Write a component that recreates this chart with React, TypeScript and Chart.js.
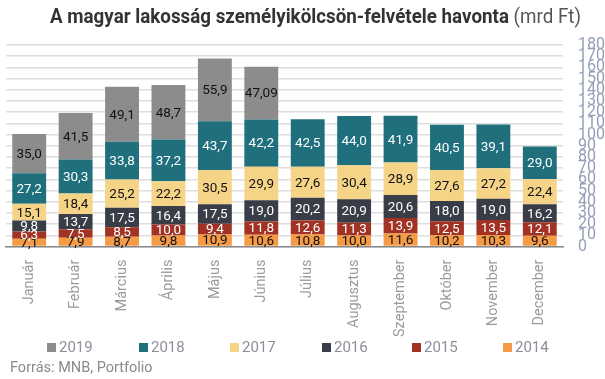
import React, { useEffect, useRef } from "react";
import { Chart, registerables } from "chart.js";

Chart.register(...registerables);

const months = ["Január", "Február", "Március", "Április", "Május", "Június", "Július", "Augusztus", "Szeptember", "Október", "November", "December"];

const s2014 = [7.1, 7.9, 8.7, 9.8, 10.9, 10.6, 10.8, 10.0, 11.6, 10.2, 10.3, 9.6];
const s2015 = [6.3, 7.5, 8.5, 10.0, 9.4, 11.8, 12.6, 11.3, 13.9, 12.5, 13.5, 12.1];
const s2016 = [9.8, 13.7, 17.5, 16.4, 17.5, 19.0, 20.2, 20.9, 20.6, 18.0, 19.0, 16.2];
const s2017 = [15.1, 18.4, 25.2, 22.2, 30.5, 29.9, 27.6, 30.4, 28.9, 27.6, 27.2, 22.4];
const s2018 = [27.2, 30.3, 33.8, 37.2, 43.7, 42.2, 42.5, 44.0, 41.9, 40.5, 39.1, 29.0];
const s2019 = [35.0, 41.5, 49.1, 48.7, 55.9, 47.09, null, null, null, null, null, null];

const seriesNames = ["2014", "2015", "2016", "2017", "2018", "2019"];
const seriesData = [s2014, s2015, s2016, s2017, s2018, s2019];
const seriesColors = ["#f59a45", "#a23224", "#393d47", "#f5d487", "#1f6f7d", "#8c8c8c"];
const labelColors = ["#111111", "#ffffff", "#ffffff", "#111111", "#ffffff", "#111111"];

const yMin = 0;
const yMax = 180;
const yStep = 10;

function fmt(v: number): string {
  const t = v * 10;
  const s = Math.abs(t - Math.round(t)) < 1e-6 ? v.toFixed(1) : v.toFixed(2);
  return s.replace(".", ",");
}

const barLabels = {
  id: "barLabels",
  afterDatasetsDraw(chart: any) {
    const ctx = chart.ctx;
    ctx.save();
    ctx.font = "13.5px Roboto";
    ctx.textAlign = "center";
    ctx.textBaseline = "middle";
    chart.data.datasets.forEach((ds: any, i: number) => {
      const meta = chart.getDatasetMeta(i);
      meta.data.forEach((el: any, j: number) => {
        const v = ds.data[j];
        if (v == null) return;
        const p = el.getProps(["x", "y", "base"], true);
        ctx.fillStyle = labelColors[i];
        ctx.fillText(fmt(v), p.x, (p.y + p.base) / 2 + 1);
      });
    });
    ctx.restore();
  },
};

export default function App() {
  const canvasRef = useRef<HTMLCanvasElement>(null);
  const titleRef = useRef<HTMLDivElement>(null);

  useEffect(() => {
    const t = titleRef.current;
    if (t) {
      t.style.transform = "none";
      const w = t.getBoundingClientRect().width;
      t.style.transform = `scaleX(${531 / w})`;
    }
    const canvas = canvasRef.current;
    if (!canvas) return;
    const chart = new Chart(canvas, {
      type: "bar",
      data: {
        labels: months,
        datasets: seriesData.map((d, i) => ({
          label: seriesNames[i],
          data: d,
          backgroundColor: seriesColors[i],
          borderWidth: 0,
          barPercentage: 0.73,
          categoryPercentage: 1,
        })),
      },
      options: {
        responsive: false,
        animation: false,
        layout: { padding: { top: 45, left: 6, right: 0, bottom: 29 } },
        plugins: {
          legend: { display: false },
          tooltip: { enabled: false },
          title: { display: false },
        },
        scales: {
          x: {
            stacked: true,
            grid: { display: false, drawTicks: false },
            border: { display: true, color: "#888888", width: 1.5 },
            ticks: {
              maxRotation: 90,
              minRotation: 90,
              autoSkip: false,
              padding: 13,
              color: "#9a9a9a",
              font: { family: "Roboto", size: 14.5 },
            },
          },
          y: {
            stacked: true,
            position: "right",
            min: yMin,
            max: yMax,
            afterFit: (scale: any) => {
              scale.width = 42;
            },
            grid: { color: "#dedede", lineWidth: 1.5, drawTicks: false },
            border: { display: false },
            ticks: {
              stepSize: yStep,
              autoSkip: false,
              padding: 15,
              color: "#93a0b8",
              font: { family: "Roboto", size: 16 },
            },
          },
        },
      },
      plugins: [barLabels],
    });
    return () => chart.destroy();
  }, []);

  const legendOrder = [5, 4, 3, 2, 1, 0];
  const legendX = [47, 139, 230, 322, 412, 503];

  return (
    <div style={{ position: "absolute", left: 0, top: 0, width: 605, height: 379, background: "#fff", overflow: "hidden", fontFamily: "Roboto" }}>
      <canvas ref={canvasRef} width={605} height={379} style={{ display: "block", width: 605, height: 379 }} />
      <div
        ref={titleRef}
        style={{ position: "absolute", left: 50, top: 4, whiteSpace: "nowrap", fontSize: 20, color: "#333333", transformOrigin: "left top", display: "inline-block" }}
      >
        <span style={{ fontWeight: 700 }}>A magyar lakosság személyikölcsön-felvétele havonta</span>
        <span style={{ fontWeight: 400, color: "#555555" }}> (mrd Ft)</span>
      </div>
      {legendOrder.map((si, k) => (
        <div key={si} style={{ position: "absolute", left: legendX[k], top: 338, height: 18, display: "flex", alignItems: "center", whiteSpace: "nowrap" }}>
          <span style={{ display: "inline-block", width: 9, height: 9, background: seriesColors[si], marginRight: 3 }} />
          <span style={{ fontSize: 15, color: "#8a8f99" }}>{seriesNames[si]}</span>
        </div>
      ))}
      <div style={{ position: "absolute", left: 10, top: 359, fontSize: 14.5, color: "#8a8a8a", whiteSpace: "nowrap" }}>Forrás: MNB, Portfolio</div>
    </div>
  );
}
